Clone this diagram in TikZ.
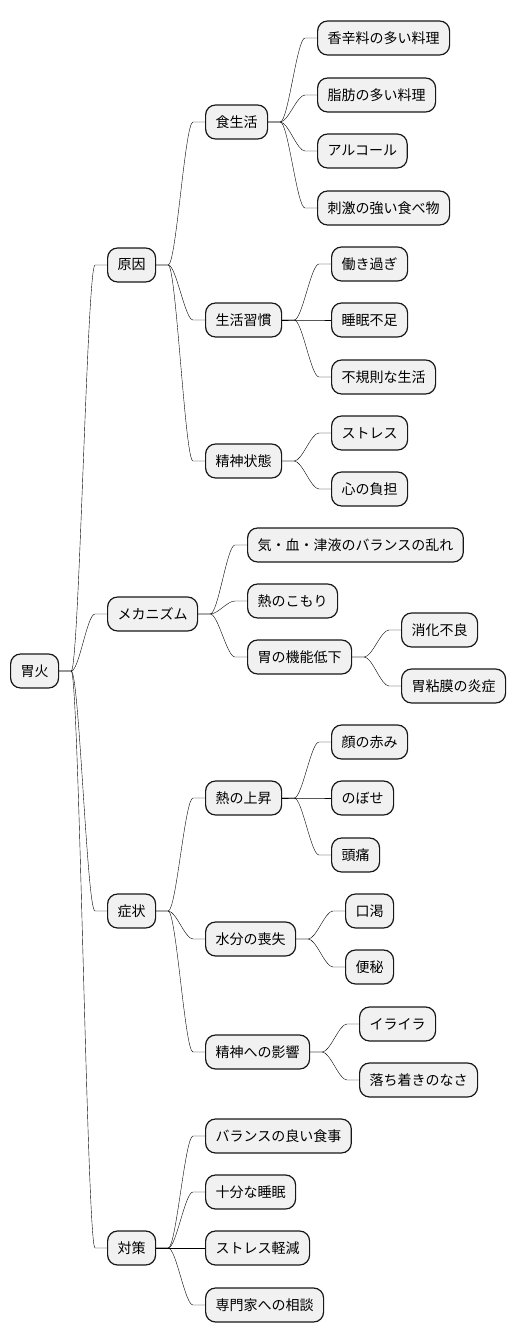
\documentclass[tikz,border=0pt]{standalone}
\usepackage{fontspec}
\setmainfont{Noto Sans CJK JP}
\usetikzlibrary{calc}
\definecolor{boxfill}{HTML}{F1F1F1}
\definecolor{boxline}{HTML}{181818}
\tikzset{
  mmnode/.style={draw=boxline, fill=boxfill, line width=1.2pt, rounded corners=10pt,
    anchor=west, minimum height=34pt, inner xsep=10pt, inner ysep=0pt,
    font=\fontsize{14}{16}\selectfont},
  mm/.style={draw=boxline, line width=1pt,
    to path={-- ++(12,0) .. controls +(8,0) and +(-8,0) .. ($(\tikztotarget)+(-12,0)$) -- (\tikztotarget)}}
}
\begin{document}
\begin{tikzpicture}[x=1pt,y=-1pt]
\useasboundingbox (0,0) rectangle (516,1343);
% root
\node[mmnode] (root) at (10,671) {胃火};
% level 1
\node[mmnode] (c1) at (107,265) {原因};
\node[mmnode] (c2) at (107,614) {メカニズム};
\node[mmnode] (c3) at (107,911) {症状};
\node[mmnode] (c4) at (107,1248) {対策};
% 原因
\node[mmnode] (c11) at (205,122) {食生活};
\node[mmnode] (c12) at (205,320) {生活習慣};
\node[mmnode] (c13) at (205,461) {精神状態};
\node[mmnode] (c111) at (317,38) {香辛料の多い料理};
\node[mmnode] (c112) at (317,95) {脂肪の多い料理};
\node[mmnode] (c113) at (317,151) {アルコール};
\node[mmnode] (c114) at (317,208) {刺激の強い食べ物};
\node[mmnode] (c121) at (331,264) {働き過ぎ};
\node[mmnode] (c122) at (331,320) {睡眠不足};
\node[mmnode] (c123) at (331,377) {不規則な生活};
\node[mmnode] (c131) at (331,433) {ストレス};
\node[mmnode] (c132) at (331,489) {心の負担};
% メカニズム
\node[mmnode] (c21) at (247,545) {気・血・津液のバランスの乱れ};
\node[mmnode] (c22) at (247,601) {熱のこもり};
\node[mmnode] (c23) at (247,657) {胃の機能低下};
\node[mmnode] (c231) at (401,630) {消化不良};
\node[mmnode] (c232) at (401,686) {胃粘膜の炎症};
% 症状
\node[mmnode] (c31) at (205,798) {熱の上昇};
\node[mmnode] (c32) at (205,939) {水分の喪失};
\node[mmnode] (c33) at (205,1052) {精神への影響};
\node[mmnode] (c311) at (331,742) {顔の赤み};
\node[mmnode] (c312) at (331,798) {のぼせ};
\node[mmnode] (c313) at (331,855) {頭痛};
\node[mmnode] (c321) at (345,911) {口渇};
\node[mmnode] (c322) at (345,967) {便秘};
\node[mmnode] (c331) at (359,1024) {イライラ};
\node[mmnode] (c332) at (359,1080) {落ち着きのなさ};
% 対策
\node[mmnode] (c41) at (205,1136) {バランスの良い食事};
\node[mmnode] (c42) at (205,1192) {十分な睡眠};
\node[mmnode] (c43) at (205,1248) {ストレス軽減};
\node[mmnode] (c44) at (205,1305) {専門家への相談};
% connectors
\foreach \p/\c in {root/c1,root/c2,root/c3,root/c4,
  c1/c11,c1/c12,c1/c13,
  c11/c111,c11/c112,c11/c113,c11/c114,
  c12/c121,c12/c122,c12/c123,
  c13/c131,c13/c132,
  c2/c21,c2/c22,c2/c23,c23/c231,c23/c232,
  c3/c31,c3/c32,c3/c33,
  c31/c311,c31/c312,c31/c313,
  c32/c321,c32/c322,
  c33/c331,c33/c332,
  c4/c41,c4/c42,c4/c43,c4/c44}
  \draw (\p.east) to[mm] (\c.west);
\end{tikzpicture}
\end{document}
